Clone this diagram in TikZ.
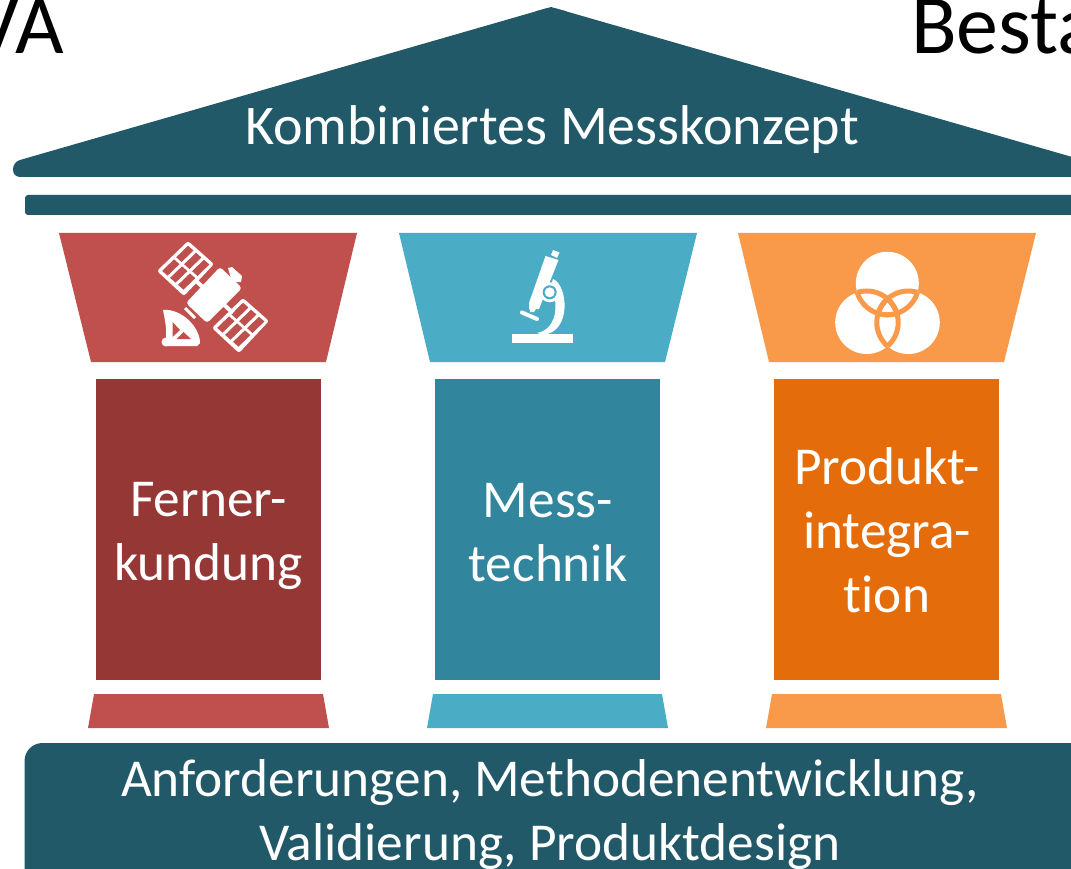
\documentclass[tikz,border=0pt]{standalone}
\usepackage{fontspec}
\setmainfont{Carlito}[Ligatures=NoCommon]
\definecolor{teal}{HTML}{215968}
\definecolor{redL}{HTML}{C0504D}
\definecolor{redD}{HTML}{953735}
\definecolor{bluL}{HTML}{4BACC6}
\definecolor{bluD}{HTML}{31859C}
\definecolor{oraL}{HTML}{F99A4B}
\definecolor{oraD}{HTML}{E46C0A}
\tikzset{
  lbl/.style={text=white,align=center,inner sep=0pt,font=\fontsize{53.3}{64}\selectfont},
  roofl/.style={text=white,inner sep=0pt,font=\fontsize{56}{64}\selectfont},
  heading/.style={text=black,inner sep=0pt,font=\fontsize{84}{90}\selectfont},
  venn/.style={draw=oraL,line width=5pt}
}
\begin{document}
\begin{tikzpicture}[x=1pt,y=-1pt]
\useasboundingbox (0,0) rectangle (1071,869);
\clip (0,0) rectangle (1071,869);
% headings
\node[heading,anchor=base east] (hl) at (64,53.5) {VA};
\node[heading,anchor=base west] (hr) at (911,53.5) {Besta};
% roof
\fill[teal,rounded corners=7pt] (551,7) -- (1100,165) -- (1100,177) -- (13,177) -- (13,162) -- cycle;
\fill[teal] (551,7) -- (535,11.6) -- (567,11.6) -- cycle;
\fill[teal,rounded corners=3pt] (25,195) rectangle (1100,215);
\node[roofl] (roof) at (552,129.5) {Kombiniertes Messkonzept};
% capitals
\fill[redL] (59,233) -- (357,233) -- (326,362) -- (91,362) -- cycle;
\fill[bluL] (399,233) -- (697,233) -- (665,362) -- (430,362) -- cycle;
\fill[oraL] (738,233) -- (1036,233) -- (1004,362) -- (769,362) -- cycle;
% shafts
\fill[redD] (96,379) rectangle (321,680);
\fill[bluD] (435,379) rectangle (660,680);
\fill[oraD] (774,379) rectangle (999,680);
\node[lbl] (a) at (208.5,535.5) {Ferner-\\kundung};
\node[lbl] (b) at (548,532.5) {Mess-\\technik};
\node[lbl] (c) at (887,530) {Produkt-\\integra-\\tion};
% feet
\fill[redL] (94,694) -- (323,694) -- (329,728) -- (88,728) -- cycle;
\fill[bluL] (433,694) -- (662,694) -- (668,728) -- (427,728) -- cycle;
\fill[oraL] (772,694) -- (1001,694) -- (1007,728) -- (766,728) -- cycle;
% base
\fill[teal,rounded corners=18pt] (24.5,900) -- (24.5,743) -- (1120,743) -- (1120,900) -- cycle;
\node[lbl] (base) at (550,815) {Anforderungen, Methodenentwicklung,\\Validierung, Produktdesign};
% satellite
\begin{scope}
\foreach \ox/\oy in {0/0,55/57}{
 \begin{scope}[shift={(\ox,\oy)}]
  \fill[white,rounded corners=2.5pt] (188,241) -- (214,264) -- (184,296) -- (157,271) -- cycle;
  \foreach \i in {0,1}\foreach \j in {0,1,2}{
   \pgfmathsetmacro{\hx}{157+0.72*(3.5+\i*19.5)+0.75*(3.5+\j*10.6)}
   \pgfmathsetmacro{\hy}{271-0.70*(3.5+\i*19.5)+0.66*(3.5+\j*10.6)}
   \fill[redL] (\hx,\hy) -- ++(11.9,-11.5) -- ++(5.4,4.8) -- ++(-11.9,11.5) -- cycle;
  }
 \end{scope}}
\draw[white,line width=4pt] (196,281) -- (206,290);
\draw[white,line width=4pt] (222,303) -- (233,313);
\fill[white,rounded corners=3pt] (220,267) -- (242,288) -- (207,323) -- (186,303) -- cycle;
\fill[white] (228,268) -- (232,267) -- (242,276) -- (241,282) -- (232,282) -- cycle;
\draw[white,line width=3pt] (185,308) -- (195,318);
\fill[white] (163,310) .. controls (180,308) and (200,326) .. (200,343) -- (197,346) -- (167,346) -- (166,338) .. controls (167,330) and (165,320) .. (163,310) -- cycle;
\fill[white] (166,342) circle (4.5pt);
\fill[redL] (172.5,322) -- (172.5,337) -- (180,330) -- cycle;
\fill[redL] (176.5,339) -- (191,339) -- (183.5,332) -- cycle;
\end{scope}
% microscope
\begin{scope}
\fill[white] (512,334) rectangle (573,343);
\fill[white] (553,250) -- (559.5,252.5) -- (557,258) -- (551,255) -- cycle;
\fill[white] (545.5,256) -- (558.5,260) -- (539,309) -- (529,309.5) -- (529,303) -- cycle;
\fill[white] (530,307) -- (537,307) -- (534,312) -- (530,312) -- cycle;
\draw[white,line width=4pt,line cap=round] (522,312.5) -- (537,319);
\fill[white] (553,279) .. controls (568,285) and (572,332) .. (543,335) -- (537,333) .. controls (560,329) and (558,296) .. (550,288) -- cycle;
\fill[white] (549.7,292.3) circle (10pt);
\fill[bluL] (549.7,292.3) circle (7pt);
\fill[white] (549.7,292.3) circle (5pt);
\end{scope}
% venn
\begin{scope}
\def\ra{(887.3,283.3) circle (31.5pt)}
\def\rb{(866.7,322.5) circle (31.5pt)}
\def\rc{(908.3,322.5) circle (31.5pt)}
\fill[white] \ra; \fill[white] \rb; \fill[white] \rc;
\begin{scope}\clip \rb; \draw[venn] \ra; \draw[venn] \rc; \end{scope}
\begin{scope}\clip \ra; \draw[venn] \rb; \draw[venn] \rc; \end{scope}
\begin{scope}\clip \rc; \draw[venn] \ra; \draw[venn] \rb; \end{scope}
\end{scope}
\end{tikzpicture}
\end{document}
